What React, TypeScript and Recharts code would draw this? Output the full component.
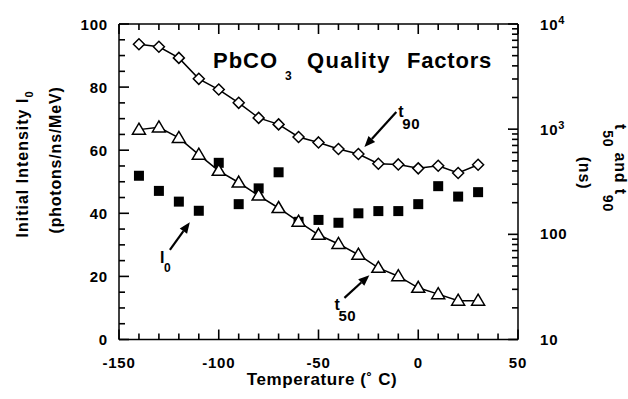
import { ComposedChart, Line, Scatter, XAxis, YAxis, ReferenceLine, ReferenceDot } from 'recharts'

const FONT = '"Liberation Sans", Arial, Helvetica, sans-serif'

// temperatures (deg C) shared by all three series
const temps = [-140, -130, -120, -110, -100, -90, -80, -70, -60, -50, -40, -30, -20, -10, 0, 10, 20, 30]
// decay times in ns (right, log axis)
const t90Ns = [6420, 6070, 4760, 3010, 2380, 1780, 1280, 1110, 843, 748, 648, 580, 469, 462, 424, 449, 383, 459]
const t50Ns = [990, 1040, 825, 572, 402, 311, 234, 178, 132, 99, 81, 64, 48, 40, 31, 27, 23.4, 23.4]
// initial intensity, photons/ns/MeV (left axis)
const intensity = [51.9, 47.1, 43.7, 40.8, 56.0, 42.9, 47.9, 53.0, 37.3, 37.9, 37.0, 40.0, 40.7, 40.7, 42.9, 48.6, 45.3, 46.7]

const xTicks = [-150, -140, -130, -120, -110, -100, -90, -80, -70, -60, -50, -40, -30, -20, -10, 0, 10, 20, 30, 40, 50]
const leftTicks = [0, 5, 10, 15, 20, 25, 30, 35, 40, 45, 50, 55, 60, 65, 70, 75, 80, 85, 90, 95, 100]
const rightTicks = [10, 20, 30, 40, 50, 60, 70, 80, 90, 100, 200, 300, 400, 500, 600, 700, 800, 900,
  1000, 2000, 3000, 4000, 5000, 6000, 7000, 8000, 9000, 10000]

// annotation arrows, [tail, head] in (temp, left-axis) units
const t90Arrow = [{ x: -11, y: 72.1 }, { x: -27, y: 61.0 }]
const t50Arrow = [{ x: -37, y: 13.2 }, { x: -24.5, y: 20.4 }]
const i0Arrow = [{ x: -124.5, y: 28.4 }, { x: -114.5, y: 37.2 }]

const t90Data = temps.map((t, i) => ({ t, v: t90Ns[i] }))
const t50Data = temps.map((t, i) => ({ t, v: t50Ns[i] }))
const i0Data = temps.map((t, i) => ({ t, v: intensity[i] }))

const txt = { fontFamily: FONT, fontWeight: 'bold' as const, fill: '#000' }
const TICK_W = 1.6
const MAJOR = 10
const MINOR = 6

function BottomTick({ x, y, payload }: any) {
  const major = payload.value % 50 === 0
  return (
    <g>
      <line x1={x} x2={x} y1={y} y2={y - (major ? MAJOR : MINOR)} stroke="#000" strokeWidth={TICK_W} />
      {major && (
        <text x={x} y={y + 28} textAnchor="middle" fontSize={15} letterSpacing={0.8} {...txt}>{payload.value}</text>
      )}
    </g>
  )
}

function TopTick({ x, y, payload }: any) {
  const major = payload.value % 50 === 0
  return <line x1={x} x2={x} y1={y} y2={y + (major ? MAJOR : MINOR)} stroke="#000" strokeWidth={TICK_W} />
}

function LeftTick({ x, y, payload }: any) {
  const major = payload.value % 20 === 0
  return (
    <g>
      <line x1={x} x2={x + (major ? MAJOR : MINOR)} y1={y} y2={y} stroke="#000" strokeWidth={TICK_W} />
      {major && (
        <text x={x - 11} y={y + 5.5} textAnchor="end" fontSize={15} letterSpacing={0.8} {...txt}>{payload.value}</text>
      )}
    </g>
  )
}

function RightTick({ x, y, payload }: any) {
  const v = payload.value
  const exp = Math.round(Math.log10(v))
  const major = Math.abs(Math.log10(v) - exp) < 1e-6
  return (
    <g>
      <line x1={x} x2={x - (major ? MAJOR : MINOR)} y1={y} y2={y} stroke="#000" strokeWidth={TICK_W} />
      {major && exp <= 2 && (
        <text x={x + 22} y={y + 5} fontSize={15} letterSpacing={0.8} {...txt}>{v}</text>
      )}
      {major && exp > 2 && (
        <text x={x + 22} y={y + 6} fontSize={15} letterSpacing={0.8} {...txt}>
          10<tspan dy={-6} fontSize={11}>{exp}</tspan>
        </text>
      )}
    </g>
  )
}

const diamond = (p: any) => (
  <polygon
    key={p.index}
    points={`${p.cx},${p.cy - 5.5} ${p.cx + 5.5},${p.cy} ${p.cx},${p.cy + 5.5} ${p.cx - 5.5},${p.cy}`}
    fill="#fff" stroke="#000" strokeWidth={1.5}
  />
)

const triangle = (p: any) => (
  <polygon
    key={p.index}
    points={`${p.cx},${p.cy - 6.5} ${p.cx + 6.5},${p.cy + 4.5} ${p.cx - 6.5},${p.cy + 4.5}`}
    fill="#fff" stroke="#000" strokeWidth={1.5}
  />
)

const square = (p: any) => <rect x={p.cx - 5} y={p.cy - 5} width={10} height={10} fill="#000" />

function Arrow(p: any) {
  const { x1, y1, x2, y2 } = p
  const dx = x2 - x1
  const dy = y2 - y1
  const len = Math.sqrt(dx * dx + dy * dy)
  const ux = dx / len
  const uy = dy / len
  const hl = 11
  const hw = 4.5
  const bx = x2 - ux * hl
  const by = y2 - uy * hl
  return (
    <g>
      <line x1={x1} y1={y1} x2={bx} y2={by} stroke="#000" strokeWidth={2.2} />
      <polygon
        points={`${x2},${y2} ${bx - uy * hw},${by + ux * hw} ${bx + uy * hw},${by - ux * hw}`}
        fill="#000"
      />
    </g>
  )
}

const subLabel = (main: string, sub: string, dx: number, dy: number, subSize: number) => (p: any) => (
  <g>
    <text x={p.cx} y={p.cy} fontSize={16} {...txt}>{main}</text>
    <text x={p.cx + dx} y={p.cy + dy} fontSize={subSize} letterSpacing={0.5} {...txt}>{sub}</text>
  </g>
)

export default function App() {
  return (
    <div style={{ position: 'absolute', left: 0, top: 0, width: 628, height: 399, background: '#fff' }}>
      <ComposedChart width={628} height={399} margin={{ top: 23, right: 109, bottom: 58.5, left: 118 }}>
        <XAxis xAxisId="b" type="number" dataKey="t" domain={[-150, 50]} ticks={xTicks} interval={0}
          orientation="bottom" height={1} tickSize={0} tickMargin={0} tickLine={false}
          axisLine={{ stroke: '#000', strokeWidth: 1.5 }} tick={(p: any) => <BottomTick {...p} />} />
        <XAxis xAxisId="t" type="number" dataKey="t" domain={[-150, 50]} ticks={xTicks} interval={0}
          orientation="top" height={1} tickSize={0} tickMargin={0} tickLine={false}
          axisLine={{ stroke: '#000', strokeWidth: 1.5 }} tick={(p: any) => <TopTick {...p} />} />
        <YAxis yAxisId="l" type="number" domain={[0, 100]} ticks={leftTicks} interval={0}
          orientation="left" width={1} tickSize={0} tickMargin={0} tickLine={false}
          axisLine={{ stroke: '#000', strokeWidth: 1.5 }} tick={(p: any) => <LeftTick {...p} />} />
        <YAxis yAxisId="r" type="number" scale="log" domain={[10, 10000]} allowDataOverflow ticks={rightTicks} interval={0}
          orientation="right" width={1} tickSize={0} tickMargin={0} tickLine={false}
          axisLine={{ stroke: '#000', strokeWidth: 1.5 }} tick={(p: any) => <RightTick {...p} />} />

        <Scatter data={i0Data} dataKey="v" xAxisId="t" yAxisId="l" shape={square} isAnimationActive={false} />
        <Line data={t90Data} dataKey="v" xAxisId="b" yAxisId="r" type="linear" stroke="#000" strokeWidth={1.5}
          dot={diamond} activeDot={false} isAnimationActive={false} />
        <Line data={t50Data} dataKey="v" xAxisId="b" yAxisId="r" type="linear" stroke="#000" strokeWidth={1.5}
          dot={triangle} activeDot={false} isAnimationActive={false} />

        <ReferenceLine xAxisId="b" yAxisId="l" segment={t90Arrow} shape={Arrow} />
        <ReferenceLine xAxisId="b" yAxisId="l" segment={t50Arrow} shape={Arrow} />
        <ReferenceLine xAxisId="b" yAxisId="l" segment={i0Arrow} shape={Arrow} />
        <ReferenceDot xAxisId="b" yAxisId="l" x={-10} y={70.5} r={0} shape={subLabel('t', '90', 4, 12, 15)} />
        <ReferenceDot xAxisId="b" yAxisId="l" x={-42} y={9.35} r={0} shape={subLabel('t', '50', 4, 11, 15)} />
        <ReferenceDot xAxisId="b" yAxisId="l" x={-129.5} y={24.2} r={0} shape={subLabel('I', '0', 4, 9, 12)} />
      </ComposedChart>

      <svg width={628} height={399} style={{ position: 'absolute', left: 0, top: 0, pointerEvents: 'none' }}>
        <text x={213} y={68} fontSize={22} letterSpacing={1} {...txt}>PbCO</text>
        <text x={285} y={80} fontSize={12} {...txt}>3</text>
        <text x={307} y={68} fontSize={22} letterSpacing={1.3} {...txt}>Quality</text>
        <text x={407} y={68} fontSize={22} letterSpacing={0.8} {...txt}>Factors</text>

        <text x={322} y={385} textAnchor="middle" fontSize={17} letterSpacing={0.6} {...txt}>Temperature (˚ C)</text>

        <text transform="translate(28,164) rotate(-90)" textAnchor="middle" fontSize={16} letterSpacing={1} {...txt}>
          Initial Intensity I<tspan dy={5} fontSize={11}>0</tspan>
        </text>
        <text transform="translate(61,160) rotate(-90)" textAnchor="middle" fontSize={16} letterSpacing={0.8} {...txt}>
          (photons/ns/MeV)
        </text>

        <text transform="translate(615,168) rotate(90)" textAnchor="middle" fontSize={16} letterSpacing={0.8} {...txt}>
          t<tspan dy={12} fontSize={14}>50</tspan><tspan dy={-12}> and t</tspan><tspan dy={12} fontSize={14}>90</tspan>
        </text>
        <text transform="translate(579,173) rotate(90)" textAnchor="middle" fontSize={16} letterSpacing={0.8} {...txt}>
          (ns)
        </text>
      </svg>
    </div>
  )
}
